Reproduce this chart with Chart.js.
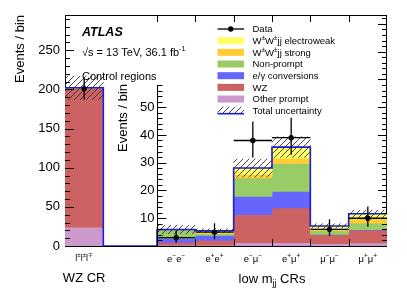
<!DOCTYPE html>
<html><head><meta charset="utf-8">
<script src="https://cdn.jsdelivr.net/npm/chart.js@4"></script>
<style>html,body{margin:0;padding:0;background:#fff}canvas{display:block}</style>
</head><body>
<canvas id="c" width="407" height="294"></canvas>
<script>
// ---------------- data ----------------
const wzCategories = ['l±l±l∓'];
const lowCategories = ['e⁻e⁻', 'e⁺e⁺', 'e⁻μ⁻', 'e⁺μ⁺', 'μ⁻μ⁻', 'μ⁺μ⁺'];
const mainTicks = [0, 50, 100, 150, 200, 250];
const insetTicks = [10, 20, 30, 40, 50];

// WZ control region (main axis)
const wzOtherPrompt = [24];
const wzWZ = [178];
const wzConversions = [0];
const wzNonPrompt = [0];
const wzWWStrong = [0];
const wzWWEW = [0];
const wzUnc = [15];
const wzData = [201];
const wzDataLo = [187];
const wzDataHi = [215];

// low mjj control regions (inset axis)
const otherPrompt = [0.3, 0.3, 1.2, 1.2, 0.8, 1.1];
const wzBkg       = [1.0, 1.7, 10.1, 12.5, 3.3, 4.6];
const conversions = [1.5, 1.8, 6.6, 6.0, 0.1, 0.2];
const nonPrompt   = [2.7, 0.6, 6.6, 10.0, 1.3, 2.3];
const wwStrong    = [0.2, 0.4, 1.3, 1.9, 0.6, 2.0];
const wwEW        = [0.2, 0.7, 2.3, 4.0, 1.1, 1.4];
const totalUnc    = [1.5, 0.7, 3.2, 3.7, 0.8, 1.3];
const dataVals    = [3, 5, 38, 39, 6, 10];
const dataLo      = [1.2, 2.4, 31.9, 32.9, 3.6, 6.9];
const dataHi      = [5.6, 8.2, 44.8, 46.2, 9.6, 14.2];

// ---------------- styling / layout ----------------
const FONT = '"Liberation Sans", Arial, Helvetica, sans-serif';
const INSET_OFFSET = 2.4;   // x position where the inset bins begin
const X_MAX = 8.4;
const Y_MAX = 295;
const Y2_MAX = 83.2;
const Y2_AXIS_TOP = 58;

const components = [
  {label: 'Other prompt', color: '#cc99cc', wz: wzOtherPrompt, low: otherPrompt},
  {label: 'WZ', color: '#cc6262', wz: wzWZ, low: wzBkg},
  {label: 'e/γ conversions', color: '#6666ff', wz: wzConversions, low: conversions},
  {label: 'Non-prompt', color: '#99cc66', wz: wzNonPrompt, low: nonPrompt},
  {label: 'W±W±jj strong', color: '#ffcc33', wz: wzWWStrong, low: wwStrong},
  {label: 'W±W±jj electroweak', color: '#ffff66', wz: wzWWEW, low: wwEW},
];

const canvas = document.getElementById('c');
const ctx0 = canvas.getContext('2d');
function makeHatch() {
  const p = document.createElement('canvas'); p.width = 6; p.height = 6;
  const c = p.getContext('2d');
  c.strokeStyle = '#333'; c.lineWidth = 0.9;
  c.beginPath();
  c.moveTo(0, 6); c.lineTo(6, 0);
  c.moveTo(-1, 1); c.lineTo(1, -1);
  c.moveTo(5, 7); c.lineTo(7, 5);
  c.stroke();
  return ctx0.createPattern(p, 'repeat');
}
const hatch = makeHatch();

// ---------------- datasets ----------------
const datasets = [];
const wzCum = wzCategories.map(() => 0);
const lowCum = lowCategories.map(() => 0);
components.forEach((comp, k) => {
  datasets.push({
    type: 'bar', yAxisID: 'y', grouped: false, order: 100 - k,
    backgroundColor: comp.color, borderWidth: 0,
    data: wzCategories.map((c, i) => { const lo = wzCum[i]; wzCum[i] += comp.wz[i]; return {x: i + 0.5, y: [lo, wzCum[i]]}; })
  });
  datasets.push({
    type: 'bar', yAxisID: 'y2', grouped: false, order: 100 - k,
    backgroundColor: comp.color, borderWidth: 0,
    data: lowCategories.map((c, i) => { const lo = lowCum[i]; lowCum[i] += comp.low[i]; return {x: INSET_OFFSET + i + 0.5, y: [lo, lowCum[i]]}; })
  });
});
// uncertainty bands
datasets.push({
  type: 'bar', yAxisID: 'y', grouped: false, order: 50, backgroundColor: hatch, borderWidth: 0,
  data: wzCategories.map((c, i) => ({x: i + 0.5, y: [wzCum[i] - wzUnc[i], wzCum[i] + wzUnc[i]]}))
});
datasets.push({
  type: 'bar', yAxisID: 'y2', grouped: false, order: 50, backgroundColor: hatch, borderWidth: 0,
  data: lowCategories.map((c, i) => ({x: INSET_OFFSET + i + 0.5, y: [lowCum[i] - totalUnc[i], lowCum[i] + totalUnc[i]]}))
});
// total outline
const wzLine = [];
wzCategories.forEach((c, i) => { wzLine.push({x: i, y: wzCum[i]}, {x: i + 1, y: wzCum[i]}); });
wzLine.push({x: wzCategories.length, y: 0}, {x: INSET_OFFSET, y: 0});
const lowLine = [{x: INSET_OFFSET, y: 0}];
lowCategories.forEach((c, i) => { lowLine.push({x: INSET_OFFSET + i, y: lowCum[i]}, {x: INSET_OFFSET + i + 1, y: lowCum[i]}); });
const BLUE = '#1c1cd6';
datasets.push({type: 'line', yAxisID: 'y', order: 20, data: wzLine, borderColor: BLUE, borderWidth: 1.6, pointRadius: 0, fill: false, tension: 0});
datasets.push({type: 'line', yAxisID: 'y2', order: 20, data: lowLine, borderColor: BLUE, borderWidth: 1.6, pointRadius: 0, fill: false, tension: 0});
// data points
datasets.push({type: 'scatter', yAxisID: 'y', order: 1, data: wzCategories.map((c, i) => ({x: i + 0.5, y: wzData[i]})), pointRadius: 2.7, backgroundColor: '#000', borderWidth: 0});
datasets.push({type: 'scatter', yAxisID: 'y2', order: 1, data: lowCategories.map((c, i) => ({x: INSET_OFFSET + i + 0.5, y: dataVals[i]})), pointRadius: 2.7, backgroundColor: '#000', borderWidth: 0});

// ---------------- text helpers ----------------
function f(sz, style) { return (style || '') + ' ' + sz + 'px ' + FONT; }
function parseRich(s) {
  const parts = [];
  for (const ch of s) {
    let t = ch, m = 0;
    if (ch === '⁺') { t = '+'; m = 1; } else if (ch === '⁻') { t = '−'; m = 1; }
    else if (ch === '±' || ch === '∓') { m = 1; }
    const last = parts[parts.length - 1];
    if (last && last[1] === m) last[0] += t; else parts.push([t, m]);
  }
  return parts;
}
function drawRich(ctx, parts, x, y, size, align, style) {
  ctx.textAlign = 'left';
  let w = 0;
  for (const p of parts) { ctx.font = f(p[1] ? size * 0.68 : size, style); w += ctx.measureText(p[0]).width; }
  let cx = align === 'center' ? x - w / 2 : align === 'right' ? x - w : x;
  for (const p of parts) {
    const s = p[1] ? size * 0.68 : size;
    ctx.font = f(s, style);
    const dy = p[1] === 1 ? -size * 0.4 : p[1] === 2 ? size * 0.28 : 0;
    ctx.fillText(p[0], cx, y + dy);
    cx += ctx.measureText(p[0]).width;
  }
}

// ---------------- plugin ----------------
const decor = {
  id: 'decor',
  beforeDatasetsDraw(chart) {
    const {ctx, chartArea: a} = chart;
    ctx.save();
    ctx.strokeStyle = '#000'; ctx.lineWidth = 1;
    ctx.strokeRect(a.left + 0.5, a.top + 0.5, a.right - a.left - 1, a.bottom - a.top);
    ctx.restore();
  },
  afterDatasetsDraw(chart) {
    const {ctx, chartArea: a} = chart;
    const xs = chart.scales.x, ys = chart.scales.y, y2 = chart.scales.y2;
    ctx.save();
    // error bars
    ctx.strokeStyle = '#000'; ctx.lineWidth = 1.3;
    ctx.beginPath();
    wzCategories.forEach((c, i) => {
      const px = xs.getPixelForValue(i + 0.5);
      ctx.moveTo(px, ys.getPixelForValue(wzDataLo[i])); ctx.lineTo(px, ys.getPixelForValue(wzDataHi[i]));
    });
    lowCategories.forEach((c, i) => {
      const x0 = INSET_OFFSET + i;
      const px = xs.getPixelForValue(x0 + 0.5), py = y2.getPixelForValue(dataVals[i]);
      ctx.moveTo(px, y2.getPixelForValue(dataLo[i])); ctx.lineTo(px, y2.getPixelForValue(dataHi[i]));
      ctx.moveTo(xs.getPixelForValue(x0), py); ctx.lineTo(xs.getPixelForValue(x0 + 1), py);
    });
    ctx.stroke();

    // tick marks
    ctx.lineWidth = 1; ctx.strokeStyle = '#000';
    ctx.beginPath();
    for (let v = 0; v <= Y_MAX; v += 10) {
      const py = Math.round(ys.getPixelForValue(v)) + 0.5;
      const len = v % 50 === 0 ? 9 : 5;
      ctx.moveTo(a.left, py); ctx.lineTo(a.left + len, py);
    }
    for (let v = 0; v <= Y2_MAX; v += 2) {
      const py = Math.round(y2.getPixelForValue(v)) + 0.5;
      const len = v % 10 === 0 ? 9 : 5;
      ctx.moveTo(a.right, py); ctx.lineTo(a.right - len, py);
    }
    const ix = Math.round(xs.getPixelForValue(INSET_OFFSET)) + 0.5;
    for (let v = 0; v <= Y2_AXIS_TOP; v += 2) {
      const py = Math.round(y2.getPixelForValue(v)) + 0.5;
      const len = v % 10 === 0 ? 9 : 5;
      ctx.moveTo(ix, py); ctx.lineTo(ix + len, py);
    }
    ctx.moveTo(ix, a.bottom); ctx.lineTo(ix, y2.getPixelForValue(Y2_AXIS_TOP));
    for (let i = 0; i < lowCategories.length; i++) {
      const px = Math.round(xs.getPixelForValue(INSET_OFFSET + i)) + 0.5;
      ctx.moveTo(px, a.top); ctx.lineTo(px, a.top + 7);
      ctx.moveTo(px, a.bottom); ctx.lineTo(px, a.bottom - 7);
    }
    ctx.stroke();

    // inset tick labels
    ctx.fillStyle = '#000';
    ctx.font = f(13); ctx.textAlign = 'right'; ctx.textBaseline = 'middle';
    insetTicks.forEach(v => ctx.fillText(String(v), ix - 3, y2.getPixelForValue(v)));

    // axis titles
    ctx.save();
    ctx.translate(20, a.top); ctx.rotate(-Math.PI / 2);
    ctx.textAlign = 'right'; ctx.textBaseline = 'middle'; ctx.font = f(13);
    ctx.fillText('Events / bin', 0, 0);
    ctx.restore();
    ctx.save();
    ctx.translate(123, y2.getPixelForValue(Y2_AXIS_TOP) - 1); ctx.rotate(-Math.PI / 2);
    ctx.textAlign = 'right'; ctx.textBaseline = 'middle'; ctx.font = f(13);
    ctx.fillText('Events / bin', 0, 0);
    ctx.restore();

    // x labels
    ctx.textBaseline = 'alphabetic';
    wzCategories.forEach((c, i) => drawRich(ctx, parseRich(c), xs.getPixelForValue(i + 0.5), 261, 9, 'center'));
    lowCategories.forEach((c, i) => drawRich(ctx, parseRich(c), xs.getPixelForValue(INSET_OFFSET + i + 0.5), 262, 9.5, 'center'));
    drawRich(ctx, [['WZ CR', 0]], xs.getPixelForValue(0.5), 281.5, 13, 'center');
    drawRich(ctx, [['low m', 0], ['jj', 2], [' CRs', 0]], 272, 282.5, 13, 'center');

    // labels
    drawRich(ctx, [['ATLAS', 0]], 82, 35.5, 12.5, 'left', 'italic bold');
    drawRich(ctx, [['√s = 13 TeV, 36.1 fb', 0], ['-1', 1]], 82, 55.5, 11, 'left');
    drawRich(ctx, [['Control regions', 0]], 82, 80, 11, 'left');

    // legend
    const lx = 217.5, lw = 26.5, tx = 252.5, y0 = 29, dy = 11.67, bh = 7;
    ctx.beginPath(); ctx.lineWidth = 1.3; ctx.strokeStyle = '#000';
    ctx.moveTo(lx, y0); ctx.lineTo(lx + lw, y0); ctx.stroke();
    ctx.beginPath(); ctx.fillStyle = '#000'; ctx.arc(lx + lw / 2, y0, 2.7, 0, Math.PI * 2); ctx.fill();
    ctx.font = f(9.5); ctx.textBaseline = 'middle'; ctx.textAlign = 'left';
    ctx.fillText('Data', tx, y0);
    const legendOrder = components.slice().reverse();
    legendOrder.forEach((comp, k) => {
      const yy = y0 + dy * (k + 1);
      ctx.fillStyle = comp.color; ctx.fillRect(lx, yy - bh / 2, lw, bh);
      ctx.fillStyle = '#000'; ctx.textBaseline = 'alphabetic';
      drawRich(ctx, parseRich(comp.label), tx, yy + 3.4, 9.5, 'left');
    });
    const yu = y0 + dy * 7;
    ctx.fillStyle = hatch; ctx.fillRect(lx, yu - 4, lw, 7);
    ctx.beginPath(); ctx.strokeStyle = BLUE; ctx.lineWidth = 1.6; ctx.moveTo(lx, yu + 3); ctx.lineTo(lx + lw, yu + 3); ctx.stroke();
    ctx.fillStyle = '#000';
    drawRich(ctx, [['Total uncertainty', 0]], tx, yu + 3.4, 9.5, 'left');
    ctx.restore();
  }
};

new Chart(canvas, {
  type: 'bar',
  data: {datasets},
  plugins: [decor],
  options: {
    responsive: false, animation: false, events: [],
    layout: {padding: {left: 0, right: 20, top: 15, bottom: 48}},
    plugins: {legend: {display: false}, tooltip: {enabled: false}},
    datasets: {bar: {barPercentage: 1, categoryPercentage: 1}},
    scales: {
      x: {type: 'linear', min: 0, max: X_MAX, display: false, offset: false, grid: {offset: false}},
      y: {
        type: 'linear', min: 0, max: Y_MAX, position: 'left',
        afterFit(s) { s.width = 65; },
        grid: {display: false, drawTicks: false}, border: {display: false},
        afterBuildTicks(s) { s.ticks = mainTicks.map(v => ({value: v})); },
        ticks: {padding: 5, color: '#000', font: {size: 13, family: FONT}, autoSkip: false}
      },
      y2: {type: 'linear', min: 0, max: Y2_MAX, display: false}
    }
  }
});
</script>
</body></html>
